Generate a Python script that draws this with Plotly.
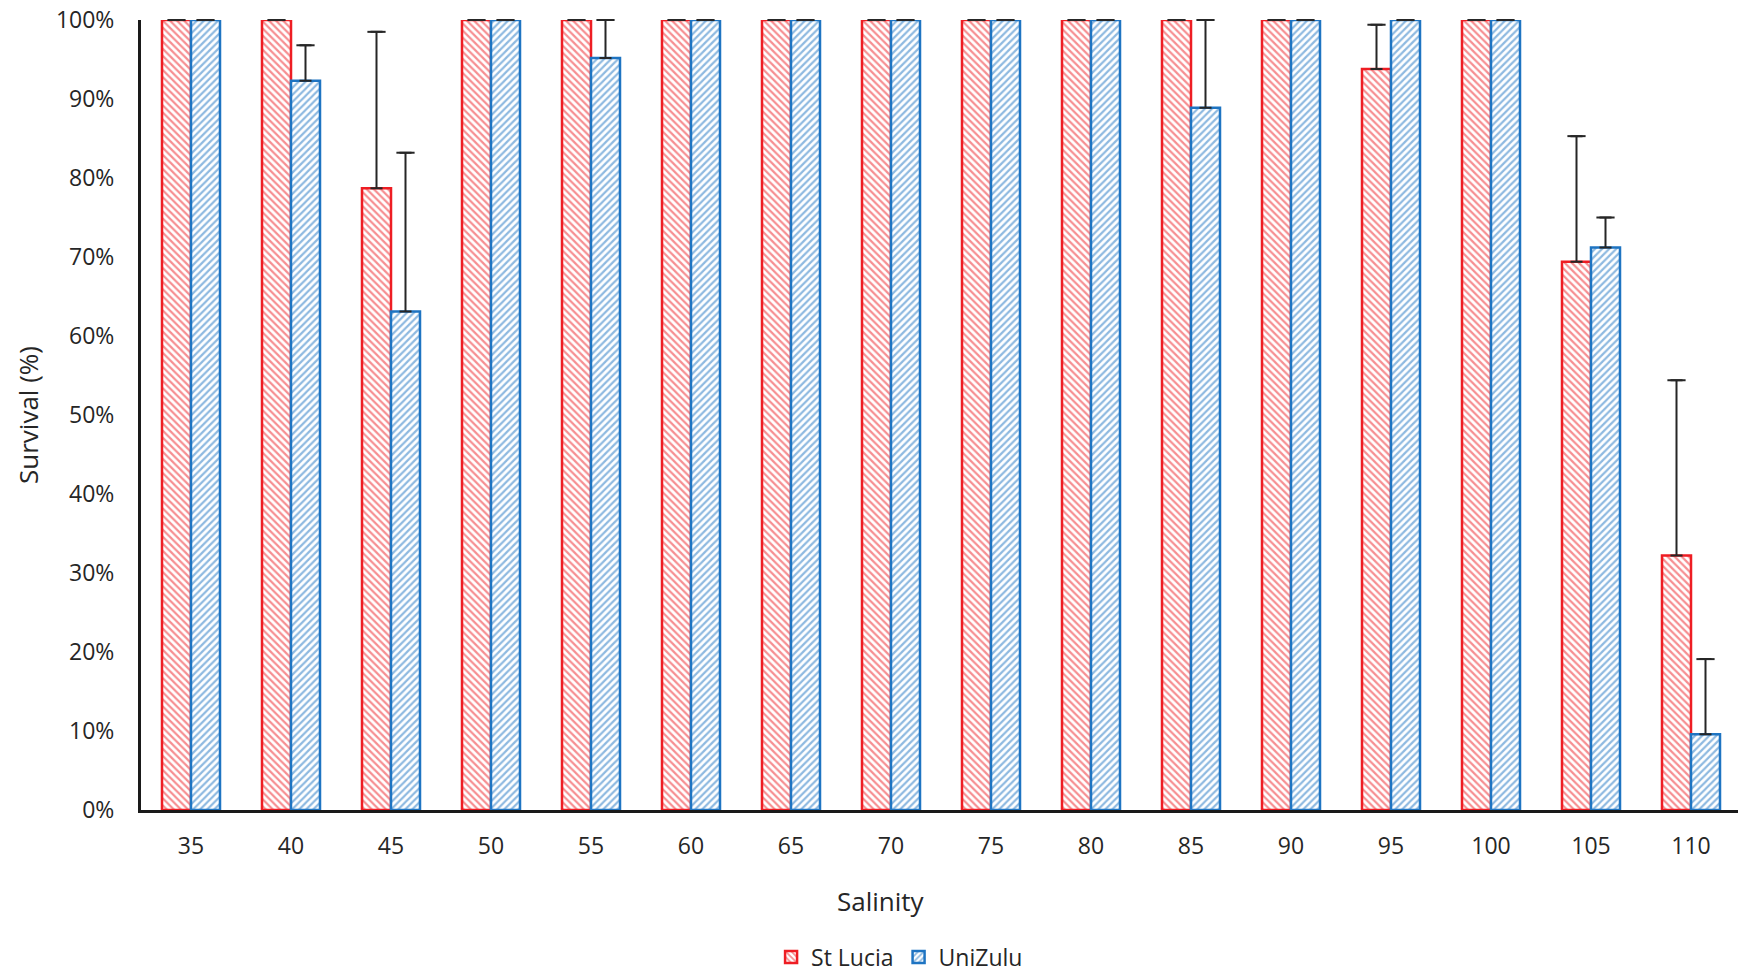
import plotly.graph_objects as go

salinity = ["35", "40", "45", "50", "55", "60", "65", "70", "75", "80", "85", "90", "95", "100", "105", "110"]
st_lucia = [100, 100, 78.7, 100, 100, 100, 100, 100, 100, 100, 100, 100, 93.8, 100, 69.4, 32.2]
st_lucia_err = [0, 0, 19.8, 0, 0, 0, 0, 0, 0, 0, 0, 0, 5.6, 0, 15.9, 22.2]
unizulu = [100, 92.3, 63.1, 100, 95.2, 100, 100, 100, 100, 100, 88.9, 100, 100, 100, 71.2, 9.6]
unizulu_err = [0, 4.5, 20.1, 0, 4.8, 0, 0, 0, 0, 0, 11.1, 0, 0, 0, 3.8, 9.5]
y_ticks = [0, 10, 20, 30, 40, 50, 60, 70, 80, 90, 100]

RED = "#EE1D23"
BLUE = "#1E74C2"
FONT = "Open Sans"
TXT = "#262626"
BARGAP = 0.42

series = [
    ("St Lucia", st_lucia, st_lucia_err, RED, "\\"),
    ("UniZulu", unizulu, unizulu_err, BLUE, "/"),
]

fig = go.Figure()
for name, vals, errs, col, shape in series:
    fig.add_trace(go.Bar(
        name=name, x=salinity, y=vals, cliponaxis=False, offsetgroup=name,
        marker=dict(color="white", line=dict(color=col, width=2.5),
                    pattern=dict(shape=shape, fgcolor=col, bgcolor="white", size=5, solidity=0.45)),
        error_y=dict(type="data", array=errs, arrayminus=[0] * len(errs),
                     symmetric=False, color=TXT, thickness=2, width=6),
    ))

# caps of the error bars (also shown where the error is zero)
for name, vals, errs, col, shape in series:
    fig.add_trace(go.Scatter(
        x=salinity, y=[v + e for v, e in zip(vals, errs)], mode="markers",
        offsetgroup=name, showlegend=False, hoverinfo="skip", cliponaxis=False,
        marker=dict(symbol="line-ew", size=13, color=TXT, line=dict(color=TXT, width=2)),
    ))

fig.update_layout(
    width=1738, height=972,
    margin=dict(l=141, r=0, t=20, b=162, autoexpand=False),
    paper_bgcolor="white", plot_bgcolor="white",
    barmode="group", bargap=BARGAP, bargroupgap=0,
    scattermode="group", scattergap=BARGAP,
    font=dict(family=FONT, size=23, color=TXT),
    showlegend=True,
    legend=dict(orientation="h", x=0.475, xanchor="center", y=-0.186, yanchor="middle",
                font=dict(size=23), traceorder="normal", itemwidth=30),
    xaxis=dict(
        range=[-0.5, 15.47],
        showline=True, linecolor="#1a1a1a", linewidth=3, ticks="", showgrid=False,
        ticklabelstandoff=13, tickfont=dict(size=23), automargin=False,
    ),
    yaxis=dict(
        range=[0, 100], tickvals=y_ticks, ticktext=[f"{v}%" for v in y_ticks],
        showline=True, linecolor="#1a1a1a", linewidth=3, ticks="", showgrid=False,
        zeroline=False, ticklabelstandoff=19, tickfont=dict(size=23), automargin=False,
        title=dict(text="Survival (%)", font=dict(size=26), standoff=10),
    ),
    annotations=[dict(text="Salinity", xref="paper", yref="paper", x=(881 - 141) / 1597,
                      y=(810 - 901) / 790, xanchor="center", yanchor="middle",
                      showarrow=False, font=dict(size=26, color=TXT))],
)

fig.write_html("out.html")
